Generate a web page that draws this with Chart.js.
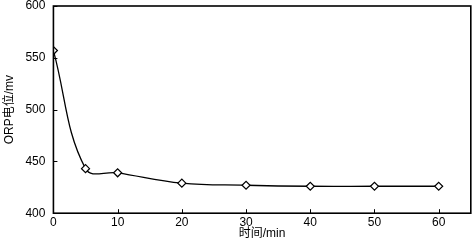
<!DOCTYPE html>
<html>
<head>
<meta charset="utf-8">
<script src="https://cdn.jsdelivr.net/npm/chart.js@4"></script>
<style>
  html, body { margin: 0; padding: 0; background: #fff; overflow: hidden; }
  #wrap { width: 472px; height: 241px; overflow: hidden; }
</style>
</head>
<body>
<div id="wrap"><canvas id="orpChart" width="476" height="241"></canvas></div>
<script>
// time (min) and ORP readings (mV)
const times = [0, 5, 10, 20, 30, 40, 50, 60];
const orpValues = [557, 443, 439, 429, 427, 426, 426, 426];
const yTicks = [400, 450, 500, 550, 600];
const xTicks = [0, 10, 20, 30, 40, 50, 60];

const fontFamily = '"Liberation Sans", Arial, "Noto Sans CJK SC", sans-serif';

// frame around the plot plus short inward tick marks
const frameTicks = {
    id: 'frameTicks',
    afterDraw(chart) {
        const { ctx, chartArea: a, scales } = chart;
        ctx.save();
        ctx.strokeStyle = '#000';
        ctx.lineWidth = 1.6;
        ctx.strokeRect(a.left, a.top, a.right - a.left, a.bottom - a.top);
        ctx.lineWidth = 1;
        ctx.beginPath();
        xTicks.forEach(v => {
            const x = Math.round(scales.x.getPixelForValue(v)) + 0.5;
            ctx.moveTo(x, a.bottom);
            ctx.lineTo(x, a.bottom - 4);
        });
        yTicks.forEach(v => {
            const y = Math.round(scales.y.getPixelForValue(v)) + 0.5;
            ctx.moveTo(a.left, y);
            ctx.lineTo(a.left + 4, y);
        });
        ctx.stroke();
        ctx.restore();
    }
};

new Chart(document.getElementById('orpChart'), {
    type: 'line',
    data: {
        datasets: [{
            data: times.map((t, i) => ({ x: t, y: orpValues[i] })),
            borderColor: '#000',
            borderWidth: 1.3,
            tension: 0.4,
            pointStyle: 'rectRot',
            pointRadius: 4,
            pointBackgroundColor: '#fff',
            pointBorderColor: '#000',
            pointBorderWidth: 1.2,
            fill: false
        }]
    },
    plugins: [frameTicks],
    options: {
        responsive: false,
        animation: false,
        layout: { padding: { top: 0, right: 0, left: 1, bottom: 0 } },
        plugins: { legend: { display: false }, tooltip: { enabled: false } },
        scales: {
            x: {
                type: 'linear',
                min: 0,
                max: 65,
                afterBuildTicks: scale => { scale.ticks = xTicks.map(v => ({ value: v })); },
                afterFit: scale => { scale.paddingRight = 0; },
                grid: { display: false, drawTicks: false },
                border: { display: false },
                ticks: { color: '#000', font: { family: fontFamily, size: 12 }, padding: 2, maxRotation: 0 },
                title: { display: true, text: '时间/min', color: '#000', font: { family: fontFamily, size: 12 }, padding: { top: -5, bottom: 0 } }
            },
            y: {
                min: 400,
                max: 600,
                afterBuildTicks: scale => { scale.ticks = yTicks.map(v => ({ value: v })); },
                afterFit: scale => { scale.paddingTop = 6; scale.paddingBottom = 6; },
                grid: { display: false, drawTicks: false },
                border: { display: false },
                ticks: { color: '#000', font: { family: fontFamily, size: 12 }, padding: 8 },
                title: { display: true, text: 'ORP电位/mv', color: '#000', font: { family: fontFamily, size: 12 }, padding: 1 }
            }
        }
    }
});
</script>
</body>
</html>
